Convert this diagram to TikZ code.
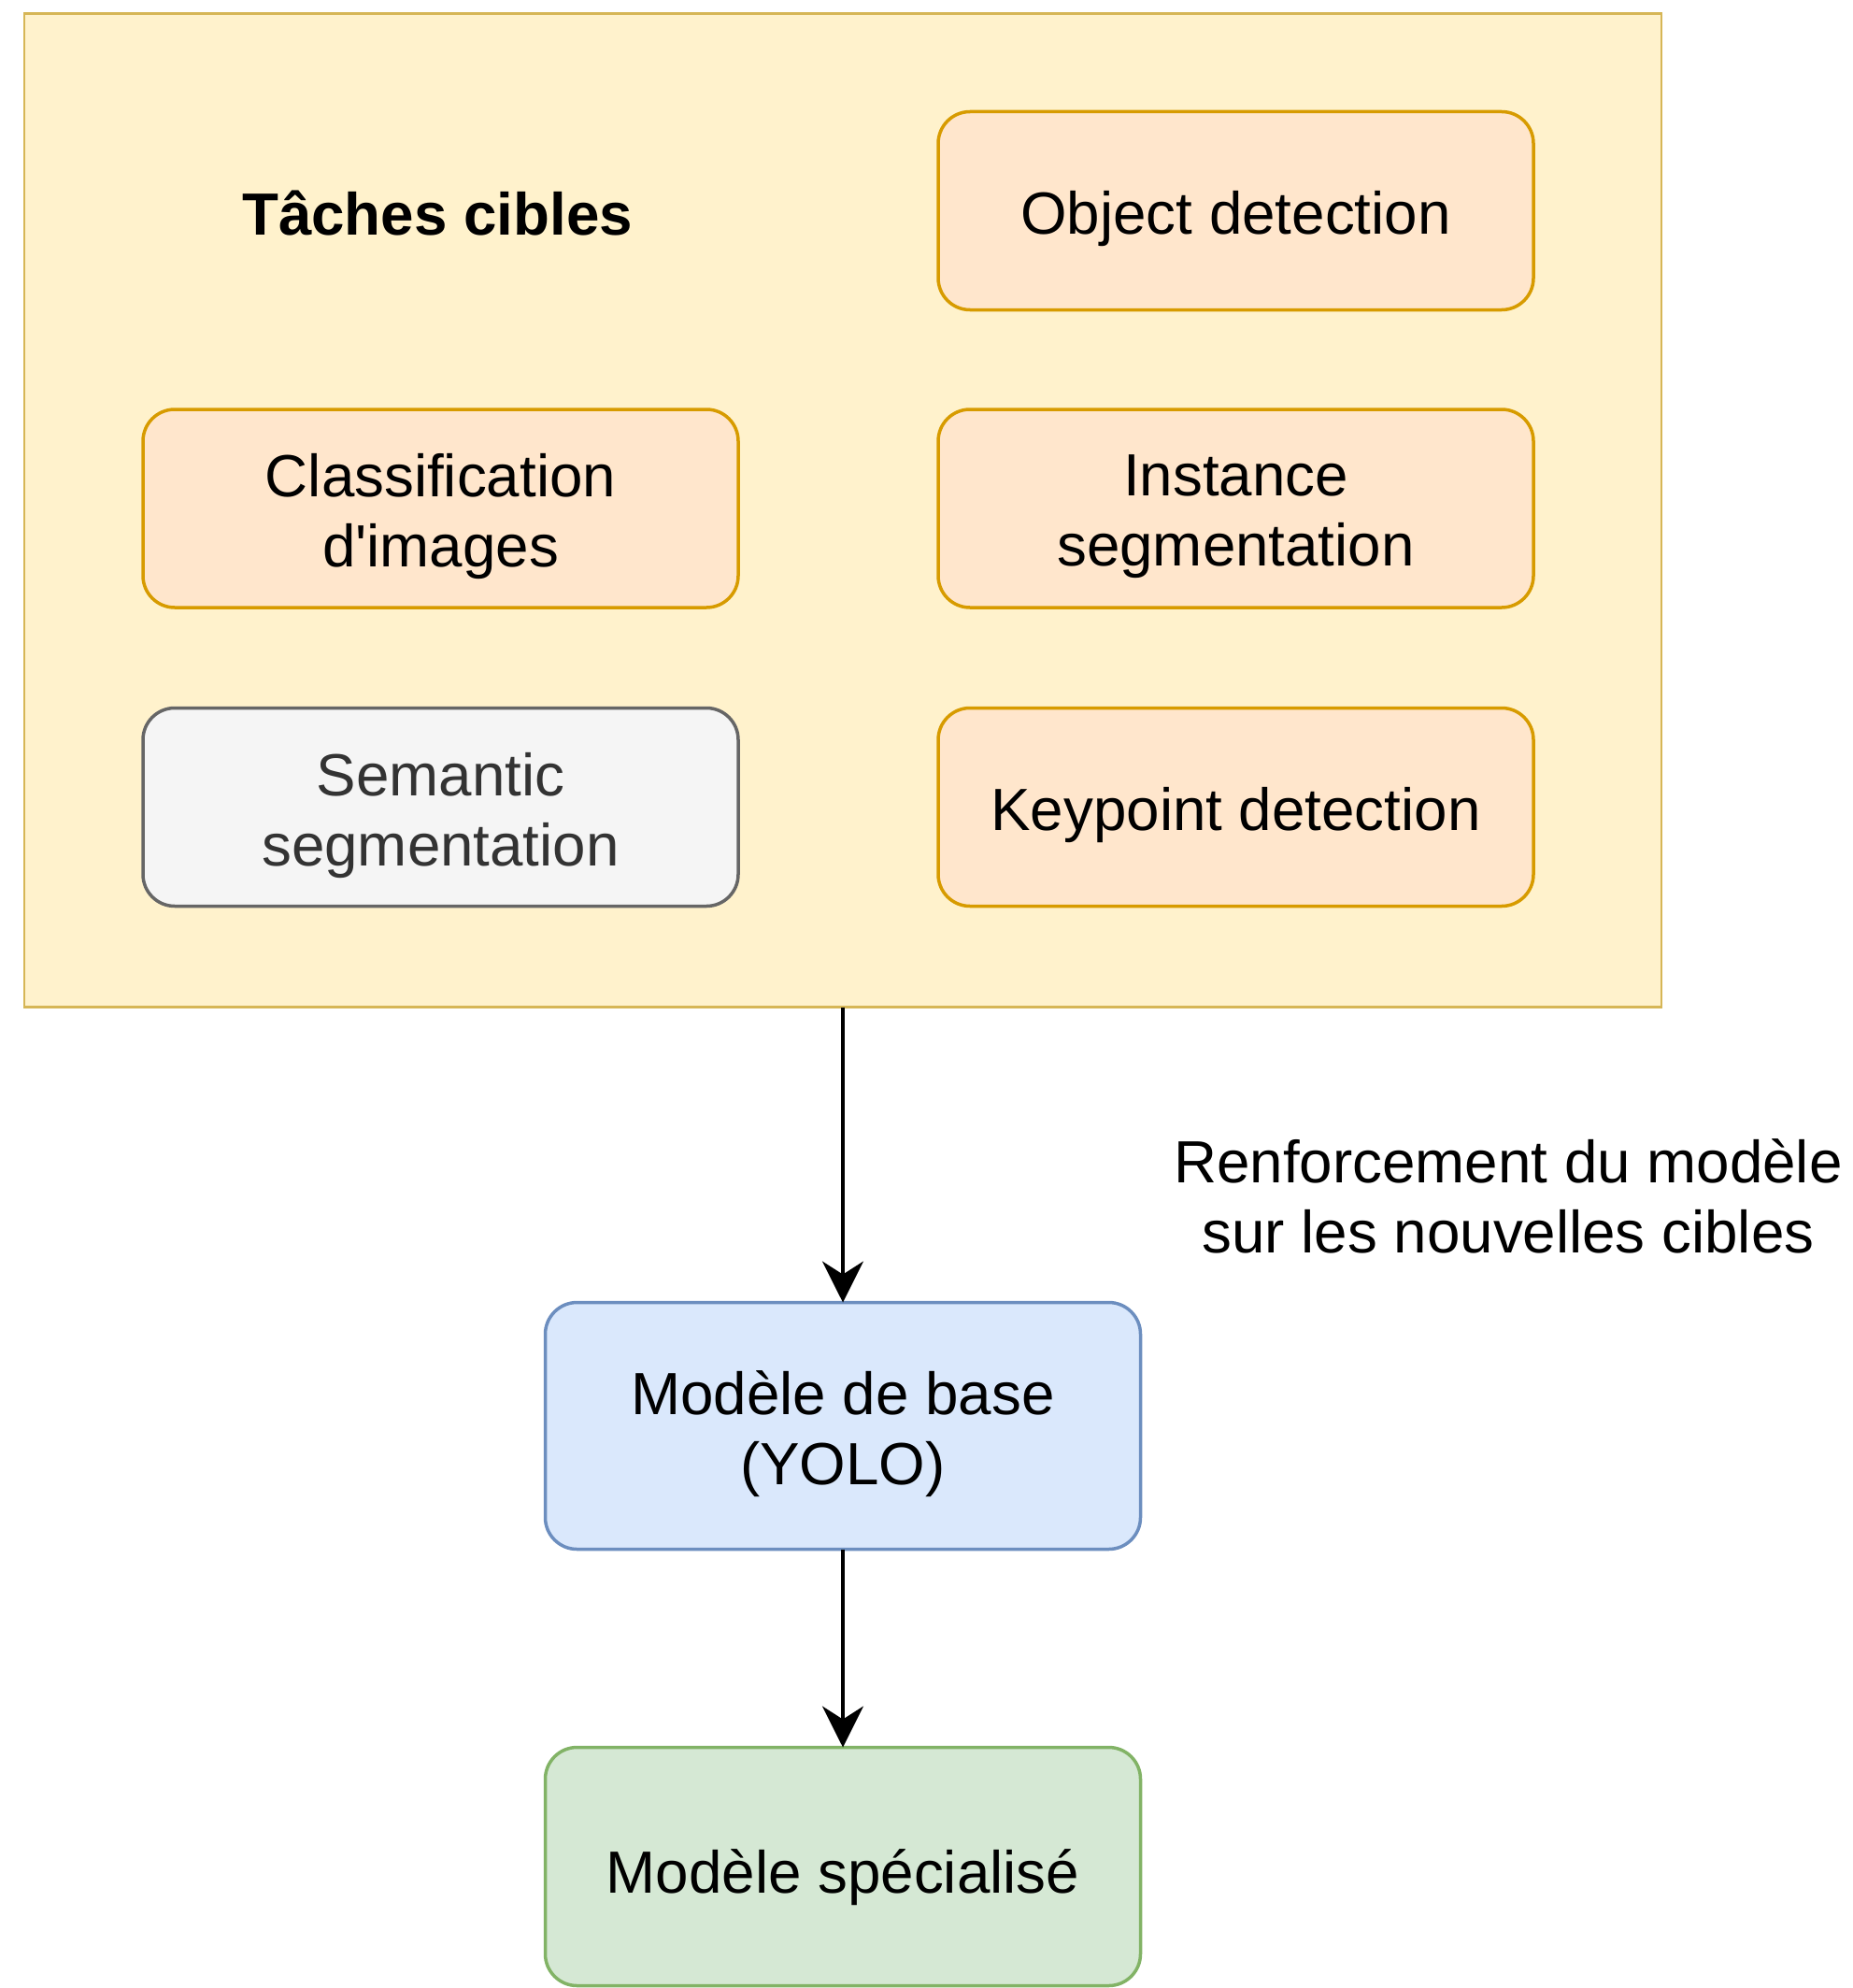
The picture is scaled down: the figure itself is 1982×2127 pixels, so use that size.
\documentclass[tikz,border=0pt]{standalone}
\usepackage{fontspec}
\newfontfamily\diagfont{Liberation Sans}
\usetikzlibrary{arrows.meta}
\definecolor{contfill}{HTML}{FFF2CC}
\definecolor{contdraw}{HTML}{D6B656}
\definecolor{orfill}{HTML}{FFE6CC}
\definecolor{ordraw}{HTML}{D79B00}
\definecolor{grfill}{HTML}{F5F5F5}
\definecolor{grdraw}{HTML}{666666}
\definecolor{grtext}{HTML}{333333}
\definecolor{blfill}{HTML}{DAE8FC}
\definecolor{bldraw}{HTML}{6C8EBF}
\definecolor{gnfill}{HTML}{D5E8D4}
\definecolor{gndraw}{HTML}{82B366}
\tikzset{
  txt/.style={font=\diagfont\fontsize{63.7}{75}\selectfont, align=center, inner sep=0pt, outer sep=0pt},
  taskbox/.style={rectangle, rounded corners=34pt, line width=3.5pt, minimum width=637pt, minimum height=212pt, inner sep=0pt, outer sep=0pt},
  orbox/.style={taskbox, fill=orfill, draw=ordraw},
  graybox/.style={taskbox, fill=grfill, draw=grdraw},
  bluebox/.style={taskbox, fill=blfill, draw=bldraw, minimum height=264pt},
  greenbox/.style={taskbox, fill=gnfill, draw=gndraw, minimum height=255pt},
  container/.style={rectangle, fill=contfill, draw=contdraw, line width=2.5pt, minimum width=1752pt, minimum height=1063pt, inner sep=0pt, outer sep=0pt},
  flow/.style={line width=3.2pt, -{Stealth[length=44pt, width=44pt, inset=14pt]}}
}
\begin{document}
\begin{tikzpicture}[x=1pt, y=-1pt]
\useasboundingbox (0,0) rectangle (1982,2127);
\node[container] (cont) at (902,546) {};
\node[txt, font=\diagfont\fontsize{63.7}{75}\selectfont\bfseries] (title) at (468,228) {Tâches cibles};
\node[orbox] (obj) at (1322.5,225.5) {};
\node[orbox] (cls) at (471.5,544) {};
\node[orbox] (inst) at (1322.5,544) {};
\node[graybox] (sem) at (471.5,863.5) {};
\node[orbox] (kp) at (1322.5,863.5) {};
\node[bluebox] (base) at (902,1525.5) {};
\node[greenbox] (spec) at (902,1997) {};
\node[txt] (objt) at ([yshift=-9pt]obj.center) {Object detection};
\node[txt] (clst) at ([yshift=-9pt]cls.center) {Classification\\d'images};
\node[txt] (instt) at ([yshift=-9pt]inst.center) {Instance\\segmentation};
\node[txt, text=grtext] (semt) at ([yshift=-9pt]sem.center) {Semantic\\segmentation};
\node[txt] (kpt) at ([yshift=-9pt]kp.center) {Keypoint detection};
\node[txt] (baset) at ([yshift=-9pt]base.center) {Modèle de base\\(YOLO)};
\node[txt] (spect) at ([yshift=-12pt]spec.center) {Modèle spécialisé};
\node[txt] (lbl) at (1614,1280) {Renforcement du modèle\\sur les nouvelles cibles};
\draw[flow] (cont.south) -- (base.north);
\draw[flow] (base.south) -- (spec.north);
\end{tikzpicture}
\end{document}
